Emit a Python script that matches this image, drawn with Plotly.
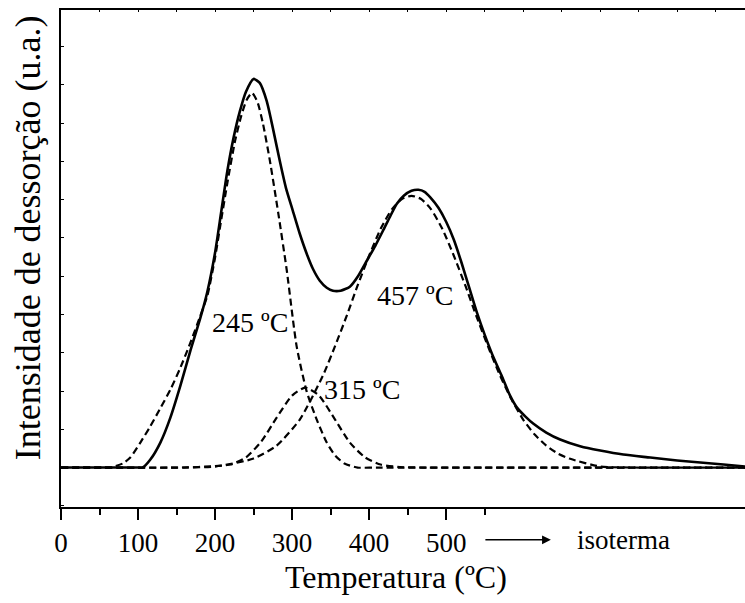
import plotly.graph_objects as go

# ---- data (temperature in ºC, intensity in arbitrary units) ----
exp_T = [0, 40, 80, 100, 106, 116, 129, 142, 155, 168, 181, 190, 200,
         208, 216, 224, 232, 240, 250, 258, 267, 275, 284, 292, 301, 310, 319, 327, 336, 345,
         353, 363, 375, 386, 397, 408, 418, 427, 436, 445, 455, 464, 472, 480, 490, 500, 510,
         520, 530, 540, 550, 560, 572, 583, 592, 603, 613, 630, 648, 675, 700, 730, 765, 800,
         830, 860, 888]
exp_I = [0, 0, 0, 0, 0, 8, 25, 50, 82, 117, 150, 176, 215,
         256, 297, 330, 356, 376, 389, 385, 367, 340, 307, 280, 257, 234, 214, 199, 187, 180,
         177, 177, 181, 192, 207, 222, 237, 251, 264, 272, 277, 278, 276, 270, 260, 246, 228,
         205, 180, 155, 133, 113, 92, 72, 60, 51, 44, 35, 28, 21, 17, 13, 10, 7,
         5, 3, 1]

p245_T = [0, 55, 64, 80, 90, 103, 115, 128, 142, 155, 168, 180, 190, 200, 208, 216, 226, 234,
          241, 248, 255, 262, 271, 282, 293, 306, 319, 332, 345, 356, 368, 385, 410, 888]
p245_I = [0, 0, 0, 4, 10, 25, 40, 58, 78, 100, 125, 150, 172, 210, 248, 285, 327, 352,
          368, 375, 366, 345, 308, 255, 198, 121, 76, 48, 25, 12, 4, 0, 0, 0]

p315_T = [0, 160, 200, 220, 240, 260, 280, 300, 317, 335, 355, 375, 395, 415, 440, 470, 888]
p315_I = [0, 0, 1.5, 3, 10, 26, 50, 72, 80, 72, 49, 25, 10, 3, 0.5, 0, 0]

p457_T = [0, 150, 200, 250, 280, 310, 340, 355, 370, 385, 400, 415, 430, 443, 455, 467, 480,
          495, 510, 525, 540, 555, 570, 585, 600, 615, 630, 645, 660, 700, 750, 888]
p457_I = [0, 0, 1, 9, 22, 48, 92, 120, 150, 182, 212, 239, 259, 269, 272, 269, 259,
          239, 212, 182, 150, 120, 92, 68, 48, 33, 22, 14, 9, 1, 0, 0]

x_tickvals = [0, 100, 200, 300, 400, 500]
x_minorvals = [50, 150, 250, 350, 450, 550]
peak_labels = ["245 ºC", "315 ºC", "457 ºC"]
peak_label_T = [245, 391, 460]
peak_label_I = [145, 78, 172]

FONT = "Liberation Serif, Times New Roman, serif"

fig = go.Figure()
dash_line = dict(color="black", width=2.2, dash="7px,4px", shape="spline", smoothing=0.6)
for T, I in [(p245_T, p245_I), (p315_T, p315_I), (p457_T, p457_I)]:
    fig.add_trace(go.Scatter(x=T, y=I, mode="lines", line=dash_line, showlegend=False,
                             hoverinfo="skip"))
fig.add_trace(go.Scatter(x=exp_T, y=exp_I, mode="lines",
                         line=dict(color="black", width=2.6, shape="spline", smoothing=0.6),
                         showlegend=False))
# invisible trace to anchor the top axis
fig.add_trace(go.Scatter(x=[0], y=[0], xaxis="x2", mode="markers",
                         marker=dict(opacity=0), showlegend=False, hoverinfo="skip"))

for txt, tx, ty in zip(peak_labels, peak_label_T, peak_label_I):
    fig.add_annotation(x=tx, y=ty, text=txt, showarrow=False, xanchor="center",
                       yanchor="middle", font=dict(family=FONT, size=28, color="black"))

# "→ isoterma" in the tick label row
fig.add_annotation(x=636, y=-0.066, xref="x", yref="paper", text="", showarrow=True,
                   ax=-67, ay=0, axref="pixel", ayref="pixel",
                   arrowhead=2, arrowsize=1.1, arrowwidth=1.6, arrowcolor="black")
fig.add_annotation(x=730, y=-0.066, xref="x", yref="paper", text="isoterma", showarrow=False,
                   xanchor="center", yanchor="middle",
                   font=dict(family=FONT, size=27, color="black"))

# axis titles
fig.add_annotation(x=0.49, y=-0.141, xref="paper", yref="paper", text="Temperatura (ºC)",
                   showarrow=False, xanchor="center", yanchor="middle",
                   font=dict(family=FONT, size=32, color="black"))
fig.add_annotation(x=-0.048, y=0.541, xref="paper", yref="paper",
                   text="Intensidade de dessorção (u.a.)", textangle=-90,
                   showarrow=False, xanchor="center", yanchor="middle",
                   font=dict(family=FONT, size=36, color="black"))

fig.update_layout(
    width=745, height=603,
    margin=dict(l=61, r=0, t=10, b=96),
    paper_bgcolor="white", plot_bgcolor="white",
    font=dict(family=FONT, size=27, color="black"),
    xaxis=dict(range=[0, 888], showline=True, linewidth=2, linecolor="black",
               showgrid=False, zeroline=False, ticks="outside", ticklen=11, tickwidth=2,
               tickcolor="black", tickmode="array", tickvals=x_tickvals,
               tickfont=dict(family=FONT, size=27, color="black"),
               minor=dict(tickmode="array", tickvals=x_minorvals, ticks="outside",
                          ticklen=6, tickwidth=1.5, tickcolor="black", showgrid=False)),
    xaxis2=dict(range=[0, 888], overlaying="x", side="top", anchor="y", showline=True,
                linewidth=2, linecolor="black", showgrid=False, zeroline=False,
                ticks="inside", ticklen=2, tickwidth=1, tickcolor="black",
                tickmode="linear", tick0=0, dtick=50, showticklabels=False),
    yaxis=dict(range=[-39.5, 458], showline=True, linewidth=2, linecolor="black",
               showgrid=False, zeroline=False, ticks="inside", ticklen=3, tickwidth=1,
               tickcolor="black", tickmode="linear", tick0=0, dtick=38.3,
               showticklabels=False),
)

fig.write_html("out.html", config={"displayModeBar": False},
               post_script="document.body.style.margin='0';document.body.style.overflow='hidden';")
